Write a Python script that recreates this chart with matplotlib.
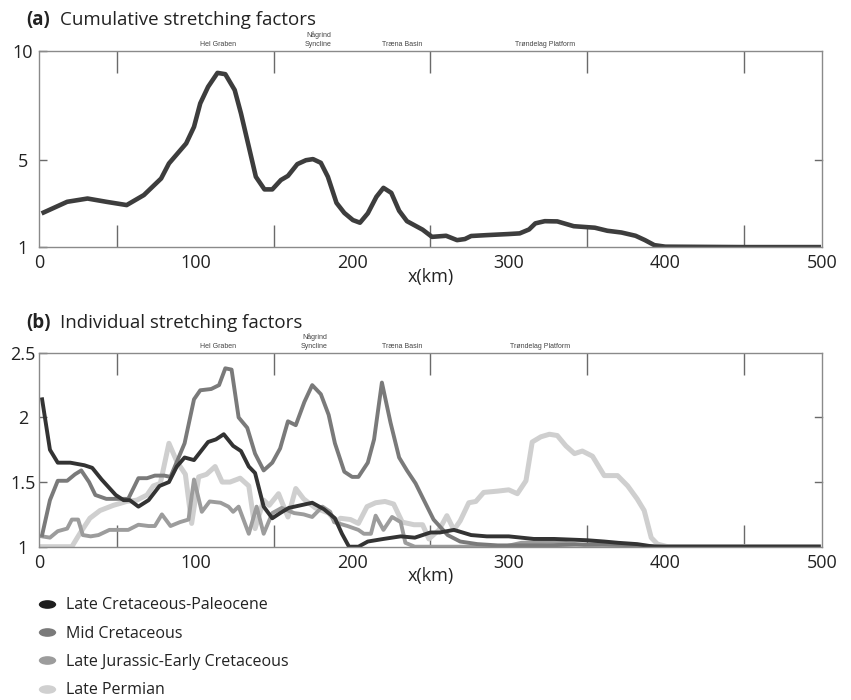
import numpy as np
import matplotlib
matplotlib.use("Agg")
import matplotlib.pyplot as plt
from matplotlib.path import Path
from matplotlib.transforms import Affine2D
from matplotlib.lines import Line2D

plt.rcParams['font.family'] = ['Open Sans', 'DejaVu Sans']

# (a) cumulative stretching factor
cum_x = [3, 18, 31, 43, 56, 67, 78, 83, 94, 99, 103, 108, 114, 119, 125, 129, 134, 138.5,
         144, 149, 154.5, 159, 165, 170.5, 175, 180, 184.5, 190, 195, 200.5, 205, 210, 215.5,
         220, 225, 230, 235, 245, 251, 260, 267, 272, 276, 286, 300, 307, 313, 317, 323, 331,
         341.5, 355, 363, 372, 381, 387, 393, 400, 450, 498]
cum_y = [2.59, 3.08, 3.23, 3.08, 2.93, 3.39, 4.15, 4.84, 5.76, 6.52, 7.60, 8.36, 9.00, 8.94,
         8.21, 7.14, 5.61, 4.23, 3.65, 3.65, 4.08, 4.27, 4.81, 4.99, 5.04, 4.87, 4.23, 3.03,
         2.57, 2.24, 2.12, 2.55, 3.31, 3.72, 3.49, 2.67, 2.19, 1.80, 1.47, 1.52, 1.32, 1.37,
         1.51, 1.55, 1.60, 1.63, 1.81, 2.09, 2.19, 2.18, 1.96, 1.89, 1.75, 1.67, 1.52, 1.32,
         1.09, 1.02, 1.0, 1.0]

# (b) individual stretching factors
lcp_x = [2, 7, 12, 20, 29, 34, 40, 49, 54, 58, 63.5, 70, 77, 83, 88, 93, 99, 108, 113, 118,
         124, 129, 134, 138, 143.5, 149, 154, 159.5, 167, 174.5, 182, 189, 193.5, 198, 204,
         210, 220, 231, 240, 250, 256, 265, 276, 286, 300, 308, 316, 329, 350, 361, 370, 382,
         393, 450, 498]
lcp_y = [2.14, 1.75, 1.65, 1.65, 1.63, 1.61, 1.52, 1.40, 1.36, 1.36, 1.31, 1.36, 1.47, 1.50,
         1.62, 1.69, 1.67, 1.81, 1.83, 1.87, 1.78, 1.74, 1.62, 1.57, 1.31, 1.22, 1.26, 1.30,
         1.32, 1.34, 1.29, 1.22, 1.10, 1.00, 1.00, 1.04, 1.06, 1.08, 1.07, 1.11, 1.11, 1.13,
         1.09, 1.08, 1.08, 1.07, 1.06, 1.06, 1.05, 1.04, 1.03, 1.02, 1.00, 1.00, 1.00]

mid_x = [2, 7, 12, 18, 23, 27, 32, 36, 43, 51, 57, 63.5, 69, 74, 80, 84, 93, 99, 103, 110,
         115, 119, 123, 127.5, 133, 138, 143.5, 149, 154, 159, 164, 169.5, 174.5, 180, 185,
         189, 195, 200, 204, 210, 214, 219, 224.5, 230, 235, 240.5, 245, 252, 261, 269, 280,
         293, 320, 360, 400, 450, 498]
mid_y = [1.09, 1.36, 1.51, 1.51, 1.56, 1.59, 1.50, 1.40, 1.37, 1.37, 1.37, 1.53, 1.53, 1.55,
         1.55, 1.54, 1.80, 2.14, 2.21, 2.22, 2.25, 2.38, 2.37, 2.00, 1.92, 1.72, 1.59, 1.65,
         1.76, 1.97, 1.94, 2.12, 2.25, 2.18, 2.02, 1.80, 1.58, 1.54, 1.54, 1.65, 1.83, 2.27,
         1.96, 1.69, 1.59, 1.49, 1.38, 1.21, 1.09, 1.04, 1.02, 1.01, 1.01, 1.02, 1.00, 1.00,
         1.00]

lje_x = [2, 7, 12, 18, 21, 25, 28, 33, 38, 45, 52, 57, 63.5, 70, 74, 78.5, 84, 90, 95.5,
         99, 104, 109, 116, 121, 124, 127.5, 134, 139, 143.5, 149, 155, 163, 169, 174.5, 181,
         186, 188.5, 197, 204, 207.5, 212, 215, 220, 225.5, 231, 234, 240, 250, 297, 308, 329,
         350, 372, 393, 450, 498]
lje_y = [1.08, 1.07, 1.12, 1.14, 1.21, 1.21, 1.09, 1.08, 1.09, 1.13, 1.13, 1.13, 1.17, 1.16,
         1.16, 1.25, 1.16, 1.19, 1.21, 1.52, 1.27, 1.35, 1.34, 1.31, 1.27, 1.31, 1.10, 1.31,
         1.10, 1.26, 1.30, 1.26, 1.25, 1.23, 1.31, 1.27, 1.19, 1.16, 1.13, 1.10, 1.10, 1.24,
         1.13, 1.23, 1.19, 1.03, 1.00, 1.00, 1.00, 1.03, 1.04, 1.01, 1.01, 1.00, 1.00, 1.00]

lp_x = [2, 21, 26, 32.5, 39, 47.5, 56, 62.5, 69, 73, 77.5, 83, 88, 93.5, 97.5, 102, 107,
        112.5, 117, 122, 128.5, 134, 138, 143.5, 147, 153, 159, 164, 169, 176.5, 185, 190,
        192.5, 199, 204, 209.5, 215, 221, 226.5, 232, 239.5, 245, 249, 255.5, 260.5, 265,
        269, 274.5, 279, 284, 293, 300, 305.5, 311, 315, 320.5, 326, 331, 336.5, 342, 347,
        353.5, 361, 369.5, 376, 382, 386.5, 391, 395, 401.5, 450, 498]
lp_y = [1.00, 1.00, 1.10, 1.22, 1.28, 1.32, 1.35, 1.36, 1.40, 1.47, 1.49, 1.80, 1.66, 1.56,
        1.18, 1.54, 1.56, 1.62, 1.50, 1.50, 1.53, 1.47, 1.14, 1.36, 1.32, 1.41, 1.23, 1.45,
        1.37, 1.30, 1.26, 1.19, 1.22, 1.21, 1.18, 1.31, 1.34, 1.35, 1.33, 1.19, 1.17, 1.17,
        1.06, 1.13, 1.24, 1.13, 1.20, 1.34, 1.35, 1.42, 1.43, 1.44, 1.41, 1.51, 1.81, 1.85,
        1.87, 1.86, 1.78, 1.72, 1.74, 1.70, 1.55, 1.55, 1.47, 1.37, 1.28, 1.07, 1.02, 1.00,
        1.00, 1.00]

series_names = ["Late Cretaceous-Paleocene", "Mid Cretaceous",
                "Late Jurassic-Early Cretaceous", "Late Permian"]
line_colors = ["#333333", "#7a7a7a", "#9c9c9c", "#cfcfcf"]
legend_colors = ["#1e1e1e", "#7a7a7a", "#9c9c9c", "#d0d0d0"]

regions = ["Hel Graben", "Någrind\nSyncline", "Træna Basin", "Trøndelag Platform"]
region_x_a = [114.5, 178.5, 232, 323]
region_x_b = [114.5, 176, 232, 320]

fig = plt.figure(figsize=(8.51, 7.00), dpi=100)
ax_a = fig.add_axes([0.0458, 0.647, 0.920, 0.280])
ax_b = fig.add_axes([0.0458, 0.219, 0.920, 0.277])


def style_axes(ax, yticks, ylabels, right_ticks):
    ax.set_xlim(0, 500)
    for s in ax.spines.values():
        s.set_color("#8a8a8a")
        s.set_linewidth(1.0)
    ax.set_xticks([0, 100, 200, 300, 400, 500])
    ax.set_xticks([50, 100, 150, 200, 250, 300, 350, 400, 450], minor=True)
    ax.tick_params(axis="x", which="major", length=0, labelsize=13, pad=5, colors="#222222")
    ax.tick_params(axis="x", which="minor", direction="in", length=16, width=1,
                   color="#6a6a6a", top=True, bottom=True)
    ax.set_yticks(yticks)
    ax.set_yticklabels(ylabels, ha="center")
    ax.tick_params(axis="y", which="major", direction="in", length=6, width=1,
                   color="#6a6a6a", labelsize=13, pad=11.5, labelcolor="#222222")
    for yt in right_ticks:
        ax.plot([495.5, 500], [yt, yt], color="#6a6a6a", lw=1, clip_on=False)
    ax.set_xlabel("x(km)", fontsize=13, labelpad=-3, color="#222222")


# panel (a)
ax_a.plot(cum_x, cum_y, color="#3d3d3d", lw=3.3, solid_joinstyle="round")
ax_a.set_ylim(1, 10)
style_axes(ax_a, [1, 5, 10], ["1", "5", "10"], [5])
for name, rx in zip(regions, region_x_a):
    ax_a.text(rx, 10.15, name, fontsize=5, ha="center", va="bottom", color="#444444",
              family=["Liberation Sans", "DejaVu Sans"], linespacing=1.3)

# panel (b)
for xs, ys, c, lw in [(lp_x, lp_y, line_colors[3], 3.6),
                      (lje_x, lje_y, line_colors[2], 2.8),
                      (mid_x, mid_y, line_colors[1], 2.8),
                      (lcp_x, lcp_y, line_colors[0], 2.8)]:
    ax_b.plot(xs, ys, color=c, lw=lw, solid_joinstyle="round")
ax_b.set_ylim(1, 2.5)
style_axes(ax_b, [1, 1.5, 2, 2.5], ["1", "1.5", "2", "2.5"], [1.5, 2.0])
for name, rx in zip(regions, region_x_b):
    ax_b.text(rx, 2.525, name, fontsize=5, ha="center", va="bottom", color="#444444",
              family=["Liberation Sans", "DejaVu Sans"], linespacing=1.3)

# titles
fig.text(0.031, 0.971, "(a)", fontsize=13.5, fontweight="bold", va="center", color="#222222")
fig.text(0.070, 0.971, "Cumulative stretching factors", fontsize=13.5, va="center", color="#222222")
fig.text(0.031, 0.538, "(b)", fontsize=13.5, fontweight="bold", va="center", color="#222222")
fig.text(0.070, 0.538, "Individual stretching factors", fontsize=13.5, va="center", color="#222222")

# legend with ellipse markers
ellipse = Path.unit_circle().transformed(Affine2D().scale(2.0, 1.0))
handles = [Line2D([], [], linestyle="none", marker=ellipse, markersize=12.5,
                  markerfacecolor=c, markeredgecolor="none") for c in legend_colors]
fig.legend(handles, series_names, loc="upper left", bbox_to_anchor=(0.0455, 0.147),
           bbox_transform=fig.transFigure, frameon=False, fontsize=11.5,
           handlelength=1.0, handletextpad=0.7, labelspacing=0.78, borderaxespad=0,
           borderpad=0, labelcolor="#222222")

fig.savefig("out.png", dpi=100)
